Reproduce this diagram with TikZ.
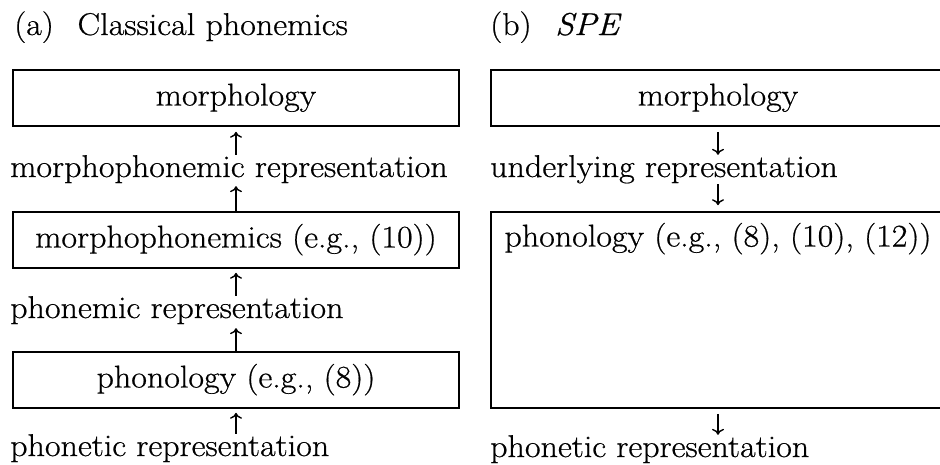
\documentclass[tikz,border=0pt]{standalone}
\usepackage{fontspec}
\setmainfont{Latin Modern Roman}[FakeStretch=1.08,FakeBold=0.6]
\usetikzlibrary{arrows.meta}
\begin{document}
\begin{tikzpicture}[x=1pt,y=-1pt,
  txt/.style={inner sep=0pt,font=\fontsize{31.5}{36}\selectfont,text height=22pt,text depth=7pt},
  lab/.style={txt,anchor=base west},
  boxn/.style={draw,line width=1.6pt,minimum width=446pt,minimum height=56pt,inner sep=0pt,txt},
  arr/.style={line width=1.4pt,-{To[length=6pt,width=12pt]}}]
\useasboundingbox (0,0) rectangle (940,464);
\clip (0,0) rectangle (940,464);
% left column
\node[lab] (ta) at (14,35) {(a)\hspace{0.75em}Classical phonemics};
\node[boxn] (b1) at (236,98) {morphology};
\node[lab] (mr) at (10,177) {morphophonemic representation};
\node[boxn] (b2) at (236,240) {morphophonemics (e.g., (10))};
\node[lab] (pr) at (10,318) {phonemic representation};
\node[boxn] (b3) at (236,380) {phonology (e.g., (8))};
\node[lab] (ph) at (10,456) {phonetic representation};
\draw[arr] (mr.north -| b1.south) -- ([yshift=-5pt]b1.south);
\draw[arr] (b2.north) -- ([yshift=-2pt]mr.south -| b2.north);
\draw[arr] (pr.north -| b2.south) -- ([yshift=-4pt]b2.south);
\draw[arr] (b3.north) -- ([yshift=-3pt]pr.south -| b3.north);
\draw[arr] (ph.north -| b3.south) -- ([yshift=-4pt]b3.south);
% right column
\node[lab] (tb) at (490,35) {(b)\hspace{0.75em}\textit{SPE}};
\node[boxn,minimum width=454pt] (rb1) at (718,98) {morphology};
\node[lab] (ur) at (490,177) {underlying representation};
\node[boxn,minimum width=454pt,minimum height=196pt] (rb2) at (718,310) {};
\node[txt] (rtx) at (718,239) {phonology (e.g., (8), (10), (12))};
\node[lab] (phr) at (490,457) {phonetic representation};
\draw[arr] ([yshift=-5pt]rb1.south) -- (ur.north -| rb1.south);
\draw[arr] (ur.south -| rb2.north) -- ([yshift=6pt]rb2.north);
\draw[arr] ([yshift=-5pt]rb2.south) -- (phr.north -| rb2.south);
\end{tikzpicture}
\end{document}
